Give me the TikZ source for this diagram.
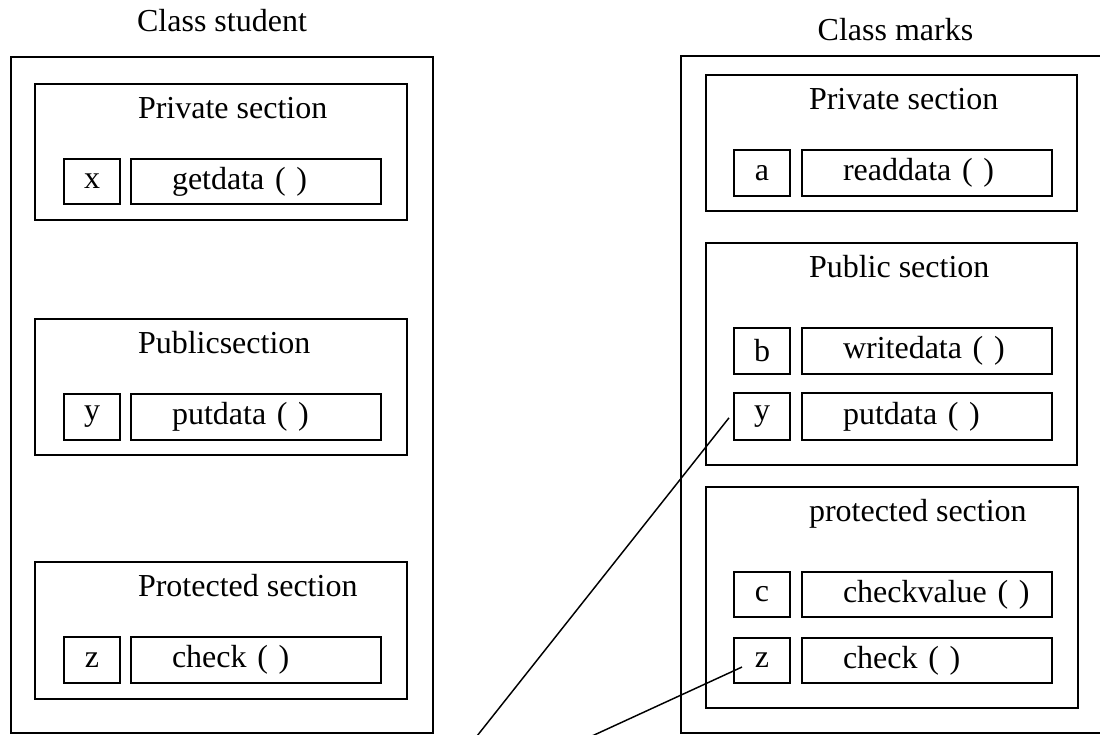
\documentclass[tikz,border=0pt]{standalone}
\usepackage{fontspec}
\setmainfont{Liberation Serif}

\begin{document}
\begin{tikzpicture}[x=0.75pt,y=-0.75pt,
    every node/.style={font=\fontsize{24}{29}\selectfont, inner sep=0pt, outer sep=0pt},
    wh/.style 2 args={minimum width=#1*0.75pt, minimum height=#2*0.75pt},
    box/.style={draw, line width=1.3pt, anchor=north west},
    var/.style={box, wh={56}{46}},
    fn/.style={box, wh={250}{46}, text width=187.5pt, align=left},
    sectitle/.style={anchor=base west},
    link/.style={line width=1.1pt}]
    \useasboundingbox (0,0) rectangle (1100,735);

    % Class student
    \node[anchor=base] (stutitle) at (222,32) {Class student};
    \node[box, wh={422}{676}] (stu) at (11,57) {};

    % private
    \node[box, wh={372}{136}] (lpriv) at (35,84) {};
    \node[sectitle] (lprivt) at ([xshift=77.25pt,yshift=-25.5pt]lpriv.north west) {Private section};
    \node[var, wh={56}{45}] (lx) at (64,159) {x};
    \node[fn, wh={250}{45}] (lget) at (131,159) {\hspace*{30.75pt}getdata ( )};

    % public
    \node[box, wh={372}{136}] (lpub) at (35,319) {};
    \node[sectitle] (lpubt) at ([xshift=77.25pt,yshift=-25.5pt]lpub.north west) {Publicsection};
    \node[var] (ly) at (64,394) {y};
    \node[fn] (lput) at (131,394) {\hspace*{30.75pt}putdata ( )};

    % protected
    \node[box, wh={372}{137}] (lprot) at (35,562) {};
    \node[sectitle] (lprott) at ([xshift=77.25pt,yshift=-25.5pt]lprot.north west) {Protected section};
    \node[var] (lz) at (64,637) {z};
    \node[fn] (lcheck) at (131,637) {\hspace*{30.75pt}check ( )};

    % Class marks
    \node[anchor=base] (marktitle) at (895.5,41) {Class marks};
    \node[box, wh={429}{677}] (mark) at (681,56) {};

    % private
    \node[box, wh={371}{136}] (rpriv) at (706,75) {};
    \node[sectitle] (rprivt) at ([xshift=77.25pt,yshift=-25.5pt]rpriv.north west) {Private section};
    \node[var] (ra) at (734,150) {a};
    \node[fn] (rread) at (802,150) {\hspace*{30.75pt}readdata ( )};

    % public
    \node[box, wh={371}{222}] (rpub) at (706,243) {};
    \node[sectitle] (rpubt) at ([xshift=77.25pt,yshift=-25.5pt]rpub.north west) {Public section};
    \node[var] (rb) at (734,328) {b};
    \node[fn] (rwrite) at (802,328) {\hspace*{30.75pt}writedata ( )};
    \node[var, wh={56}{47}] (ry) at (734,393) {y};
    \node[fn, wh={250}{47}] (rput) at (802,393) {\hspace*{30.75pt}putdata ( )};

    % protected
    \node[box, wh={372}{221}] (rprot) at (706,487) {};
    \node[sectitle] (rprott) at ([xshift=77.25pt,yshift=-25.5pt]rprot.north west) {protected section};
    \node[var, wh={56}{45}] (rc) at (734,572) {c};
    \node[fn, wh={250}{45}] (rcheckv) at (802,572) {\hspace*{30.75pt}checkvalue ( )};
    \node[var, wh={56}{45}] (rz) at (734,638) {z};
    \node[fn, wh={250}{45}] (rcheck) at (802,638) {\hspace*{30.75pt}check ( )};

    % links
    \coordinate (e1) at (477,736);
    \coordinate (e2) at (592,736);
    \draw[link] ([xshift=-3.75pt,yshift=-1pt]ry.west) -- (e1);
    \draw[link] ([xshift=6pt,yshift=-4.9pt]rz.west) -- (e2);
\end{tikzpicture}
\end{document}
